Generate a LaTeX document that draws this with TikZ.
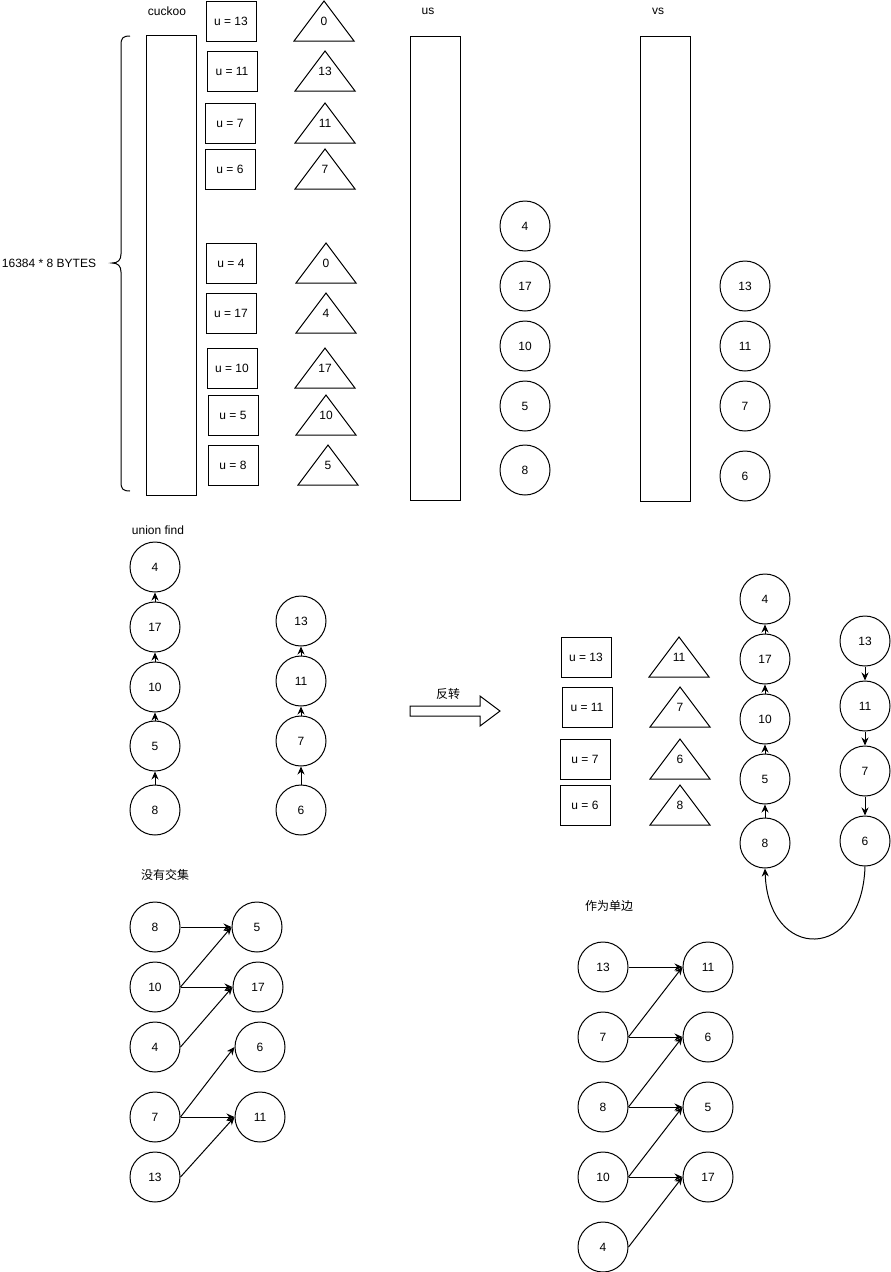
\documentclass[tikz,border=0pt]{standalone}
\usepackage{fontspec}
\setmainfont{Liberation Sans}
\newfontfamily\cjk{Noto Sans CJK SC}
\usetikzlibrary{arrows.meta}
\newcommand{\tri}[4]{%
  \draw[shp] (#2-30,#3+20) -- (#2,#3-20) -- (#2+30,#3+20) -- cycle;
  \node[lbl] (#1) at (#2,#3) {#4};}
\begin{document}
\begin{tikzpicture}[x=1pt,y=-1pt,
  every node/.style={font=\fontsize{12pt}{14pt}\selectfont},
  lbl/.style={inner sep=0},
  shp/.style={line width=1pt},
  cir/.style={circle,draw,minimum size=50pt,inner sep=0,line width=1pt},
  ubox/.style={rectangle,draw,minimum width=50pt,minimum height=40pt,inner sep=0,line width=1pt},
  col/.style={rectangle,draw,minimum width=50pt,inner sep=0,line width=1pt},
  arr/.style={-{Stealth[length=8pt,width=7pt]},line width=1pt},
  ]
\useasboundingbox (0,0) rectangle (891,1272);

% ---------- top section ----------
\node[lbl] (tcuckoo) at (167,11) {cuckoo};
\node[lbl] (tus) at (428,11) {us};
\node[lbl] (tvs) at (658,11) {vs};
\node[lbl] (tbytes) at (49,263) {16384 * 8 BYTES};
\draw[shp] (130,36) .. controls (123,36) and (121,38) .. (121,45)
  -- (121,254) .. controls (121,260) and (118,263) .. (112,263)
  .. controls (118,263) and (121,266) .. (121,272)
  -- (121,482) .. controls (121,489) and (123,491) .. (130,491);

\node[col,minimum height=460pt] (cuckoo) at (171,265) {};
\node[col,minimum height=464pt] (us) at (435,268) {};
\node[col,minimum height=465pt] (vs) at (665,268.5) {};

\node[ubox] (b13) at (231,21) {u = 13};
\node[ubox] (b11) at (232,71) {u = 11};
\node[ubox] (b7) at (230,123) {u = 7};
\node[ubox] (b6) at (230,169) {u = 6};
\node[ubox] (b4) at (231,263) {u = 4};
\node[ubox] (b17) at (231,313) {u = 17};
\node[ubox] (b10) at (232,368) {u = 10};
\node[ubox] (b5) at (233,415) {u = 5};
\node[ubox] (b8) at (233,465) {u = 8};

\tri{t1}{324}{21}{0}
\tri{t2}{325}{71}{13}
\tri{t3}{325}{123}{11}
\tri{t4}{325}{169}{7}
\tri{t5}{326}{263}{0}
\tri{t6}{326}{313}{4}
\tri{t7}{325}{368}{17}
\tri{t8}{326}{415}{10}
\tri{t9}{328}{465}{5}

\node[cir] (us4) at (525,226) {4};
\node[cir] (us17) at (525,286) {17};
\node[cir] (us10) at (525,346) {10};
\node[cir] (us5) at (525,406) {5};
\node[cir] (us8) at (525,470) {8};

\node[cir] (vs13) at (745,286) {13};
\node[cir] (vs11) at (745,346) {11};
\node[cir] (vs7) at (745,406) {7};
\node[cir] (vs6) at (745,476) {6};

% ---------- union find ----------
\node[lbl] (tuf) at (158,530) {union find};
\node[cir] (a4) at (155,567) {4};
\node[cir] (a17) at (155,627) {17};
\node[cir] (a10) at (155,687) {10};
\node[cir] (a5) at (155,746) {5};
\node[cir] (a8) at (155,810) {8};
\draw[arr] (a8) -- (a5);
\draw[arr] (a5) -- (a10);
\draw[arr] (a10) -- (a17);
\draw[arr] (a17) -- (a4);

\node[cir] (c13) at (301,621) {13};
\node[cir] (c11) at (301,681) {11};
\node[cir] (c7) at (301,741) {7};
\node[cir] (c6) at (301,810) {6};
\draw[arr] (c6) -- (c7);
\draw[arr] (c7) -- (c11);
\draw[arr] (c11) -- (c13);

% ---------- block arrow ----------
\node[lbl] (trev) at (448,694) {\cjk 反转};
\draw[shp] (410,706) -- (480,706) -- (480,696) -- (500,711) -- (480,726)
  -- (480,716) -- (410,716) -- cycle;

% ---------- reversed group ----------
\node[ubox] (r13) at (586,657) {u = 13};
\node[ubox] (r11) at (587,707) {u = 11};
\node[ubox] (r7) at (585,759) {u = 7};
\node[ubox] (r6) at (585,805) {u = 6};
\tri{rt1}{679}{657}{11}
\tri{rt2}{680}{707}{7}
\tri{rt3}{680}{759}{6}
\tri{rt4}{680}{805}{8}

\node[cir] (d4) at (765,599) {4};
\node[cir] (d17) at (765,659) {17};
\node[cir] (d10) at (765,719) {10};
\node[cir] (d5) at (765,779) {5};
\node[cir] (d8) at (765,843) {8};
\draw[arr] (d8) -- (d5);
\draw[arr] (d5) -- (d10);
\draw[arr] (d10) -- (d17);
\draw[arr] (d17) -- (d4);

\node[cir] (e13) at (865,641) {13};
\node[cir] (e11) at (865,706) {11};
\node[cir] (e7) at (865,771) {7};
\node[cir] (e6) at (865,841) {6};
\draw[arr] (e13) -- (e11);
\draw[arr] (e11) -- (e7);
\draw[arr] (e7) -- (e6);
\draw[arr] (e6.south) .. controls (862,962) and (768,962) .. (d8.south);

% ---------- no intersection ----------
\node[lbl] (tnone) at (165,875) {\cjk 没有交集};
\node[cir] (f8) at (155,927) {8};
\node[cir] (f10) at (155,987) {10};
\node[cir] (f4) at (155,1047) {4};
\node[cir] (f7) at (155,1117) {7};
\node[cir] (f13) at (155,1177) {13};
\node[cir] (g5) at (257,927) {5};
\node[cir] (g17) at (258,987) {17};
\node[cir] (g6) at (260,1047) {6};
\node[cir] (g11) at (260,1117) {11};
\draw[arr] (f8.east) -- (g5.west);
\draw[arr] (f10.east) -- (g5.west);
\draw[arr] (f10.east) -- (g17.west);
\draw[arr] (f4.east) -- (g17.west);
\draw[arr] (f7.east) -- (g6.west);
\draw[arr] (f7.east) -- (g11.west);
\draw[arr] (f13.east) -- (g11.west);

% ---------- single edge ----------
\node[lbl] (tsingle) at (609,906) {\cjk 作为单边};
\node[cir] (h13) at (603,967) {13};
\node[cir] (h7) at (603,1037) {7};
\node[cir] (h8) at (603,1107) {8};
\node[cir] (h10) at (603,1177) {10};
\node[cir] (h4) at (603,1247) {4};
\node[cir] (k11) at (708,967) {11};
\node[cir] (k6) at (708,1037) {6};
\node[cir] (k5) at (708,1107) {5};
\node[cir] (k17) at (708,1177) {17};
\draw[arr] (h13.east) -- (k11.west);
\draw[arr] (h7.east) -- (k11.west);
\draw[arr] (h7.east) -- (k6.west);
\draw[arr] (h8.east) -- (k6.west);
\draw[arr] (h8.east) -- (k5.west);
\draw[arr] (h10.east) -- (k5.west);
\draw[arr] (h10.east) -- (k17.west);
\draw[arr] (h4.east) -- (k17.west);
\end{tikzpicture}
\end{document}
